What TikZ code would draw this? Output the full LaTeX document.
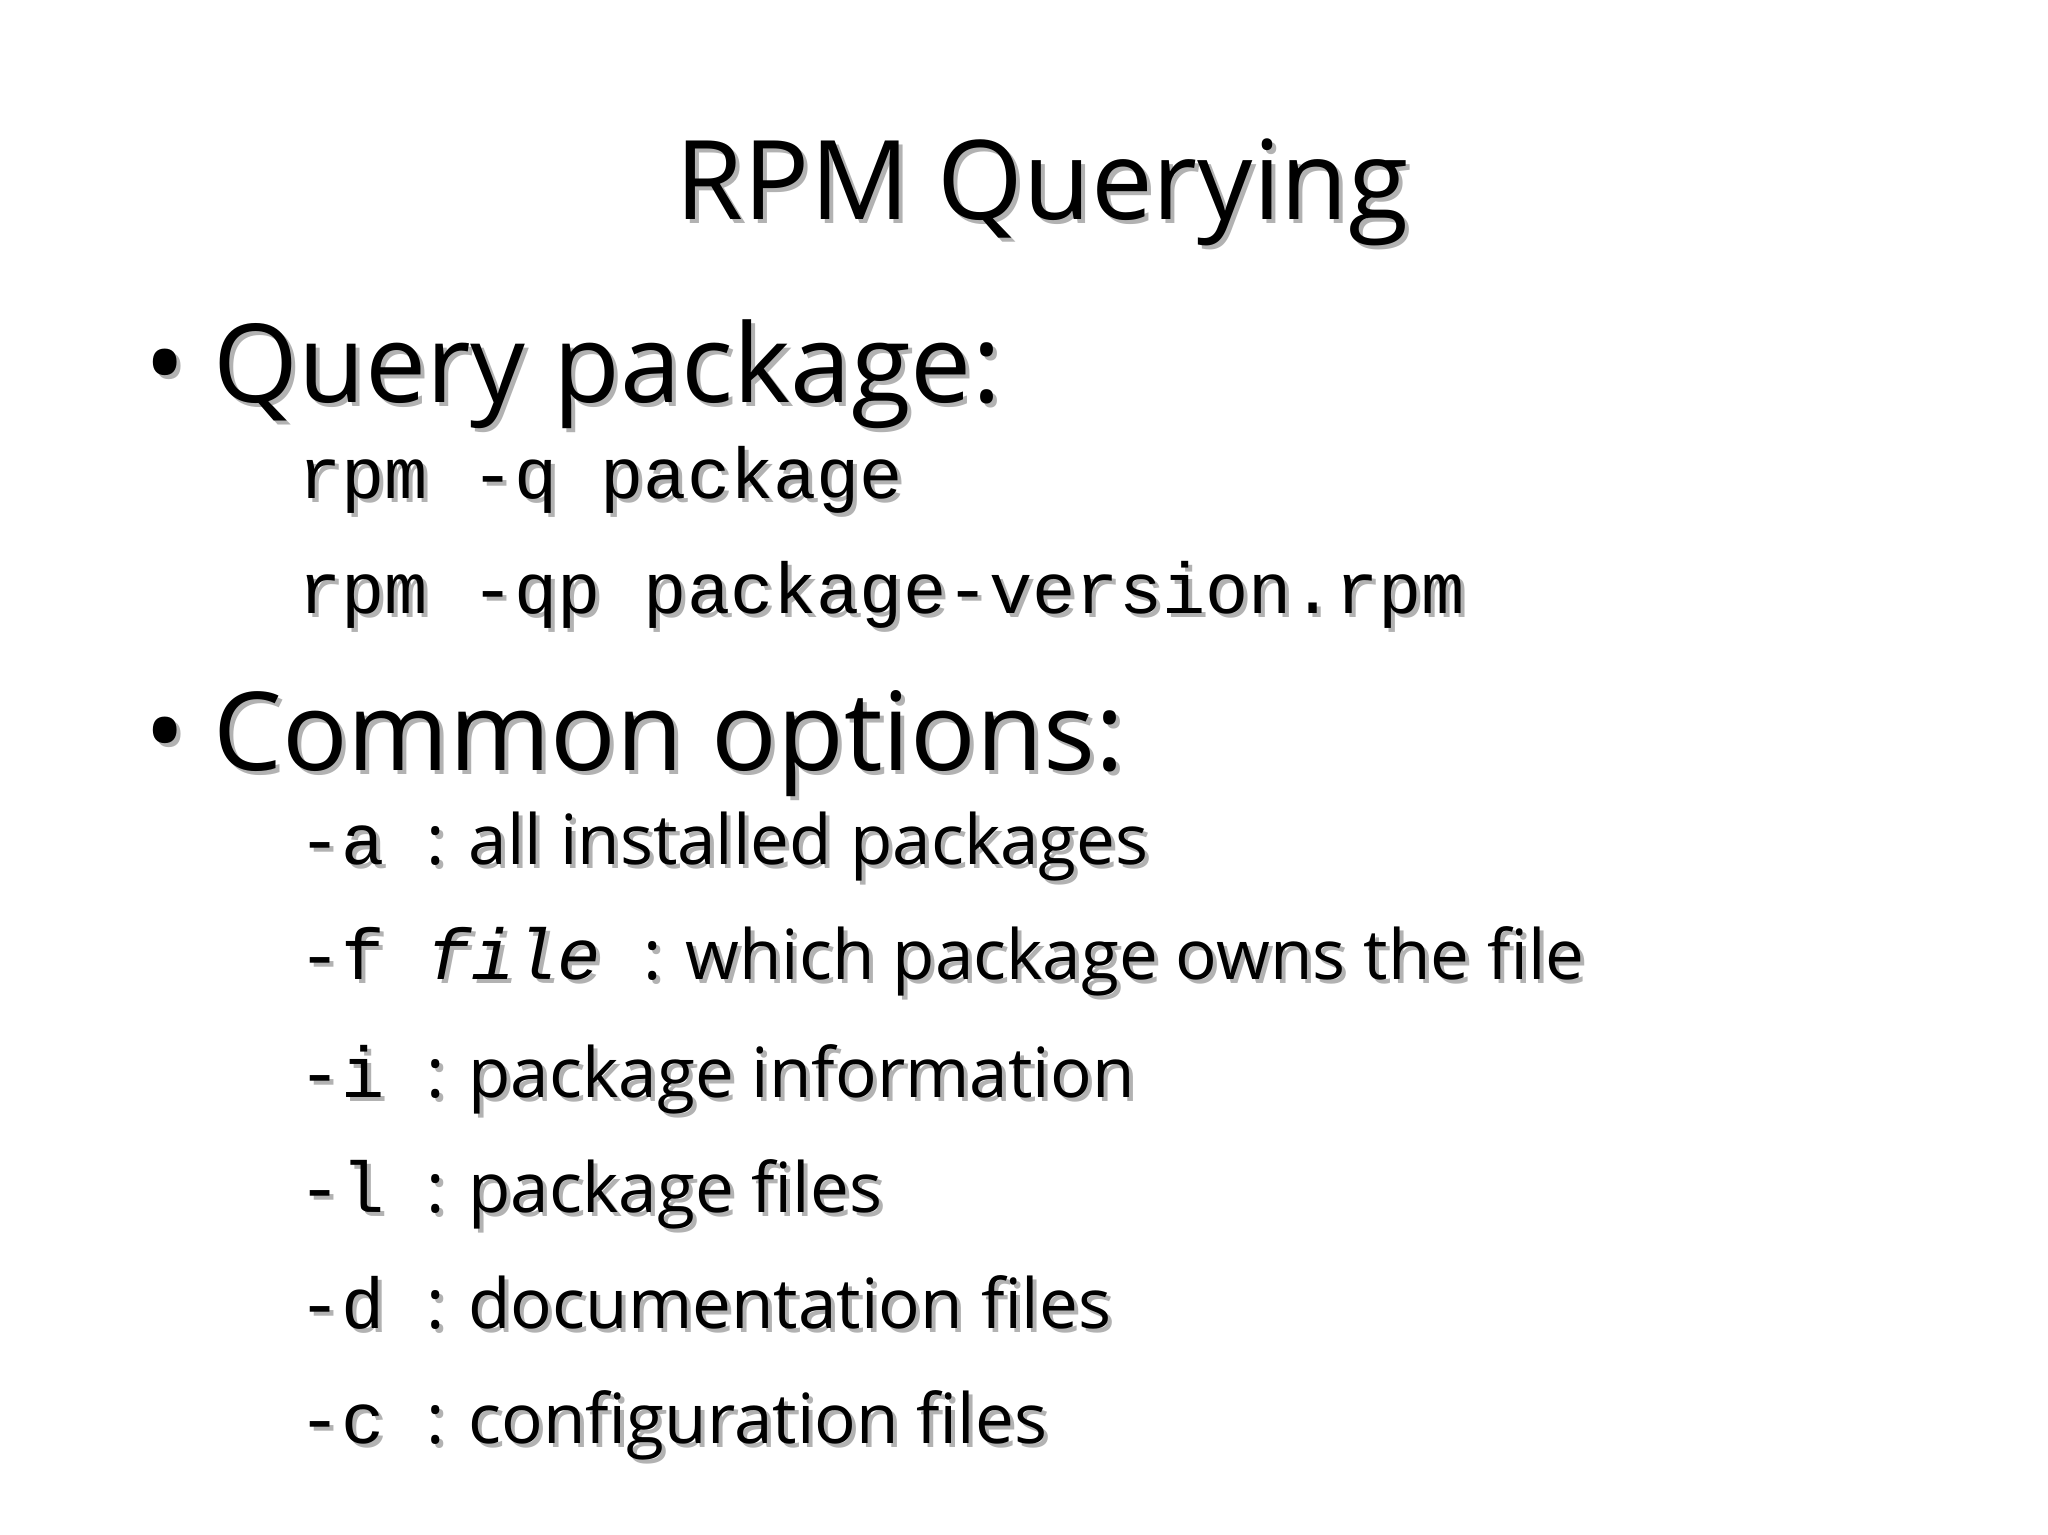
\documentclass[tikz,border=0pt]{standalone}
\usepackage{fontspec}
\setmainfont{Open Sans}
\setmonofont{Liberation Mono}
\newcommand\shtxt[4]{%
  \node[anchor=#3,inner sep=0pt,text=black!30,xshift=2pt,yshift=-2pt] at (#1) {#4};
  \node[anchor=#3,inner sep=0pt] (#2) at (#1) {#4};}
\begin{document}
\begin{tikzpicture}[x=0.653pt,y=-0.653pt]
\useasboundingbox[fill=white] (0,0) rectangle (1568,1175);
\def\op{\fontsize{34.6}{40}\selectfont}
\def\mo{\fontsize{36}{40}\selectfont\ttfamily}
\shtxt{798,168}{title}{base}{\fontsize{55}{62}\selectfont RPM Querying}
\shtxt{110,308}{b1}{base west}{\fontsize{55}{60}\selectfont •}
\shtxt{163,308}{q}{base west}{\fontsize{54.5}{60}\selectfont Query package:}
\shtxt{228,382}{l1}{base west}{\mo rpm -q package}
\shtxt{228,470}{l2}{base west}{\mo rpm -qp package-version.rpm}
\shtxt{110,590}{b2}{base west}{\fontsize{55}{60}\selectfont •}
\shtxt{163,590}{c}{base west}{\fontsize{54.5}{60}\selectfont Common options:}
\shtxt{228,662}{oa}{base west}{\mo -a}
\shtxt{326,662}{ta}{base west}{\op : all installed packages}
\shtxt{228,750}{of}{base west}{\mo -f \textit{file}}
\shtxt{492,750}{tf}{base west}{\op : which package owns the file}
\shtxt{228,840}{oi}{base west}{\mo -i}
\shtxt{326,840}{ti}{base west}{\op : package information}
\shtxt{228,928}{ol}{base west}{\mo -l}
\shtxt{326,928}{tl}{base west}{\op : package files}
\shtxt{228,1017}{od}{base west}{\mo -d}
\shtxt{326,1017}{td}{base west}{\op : documentation files}
\shtxt{228,1105}{oc}{base west}{\mo -c}
\shtxt{326,1105}{tc}{base west}{\op : configuration files}
\end{tikzpicture}
\end{document}
